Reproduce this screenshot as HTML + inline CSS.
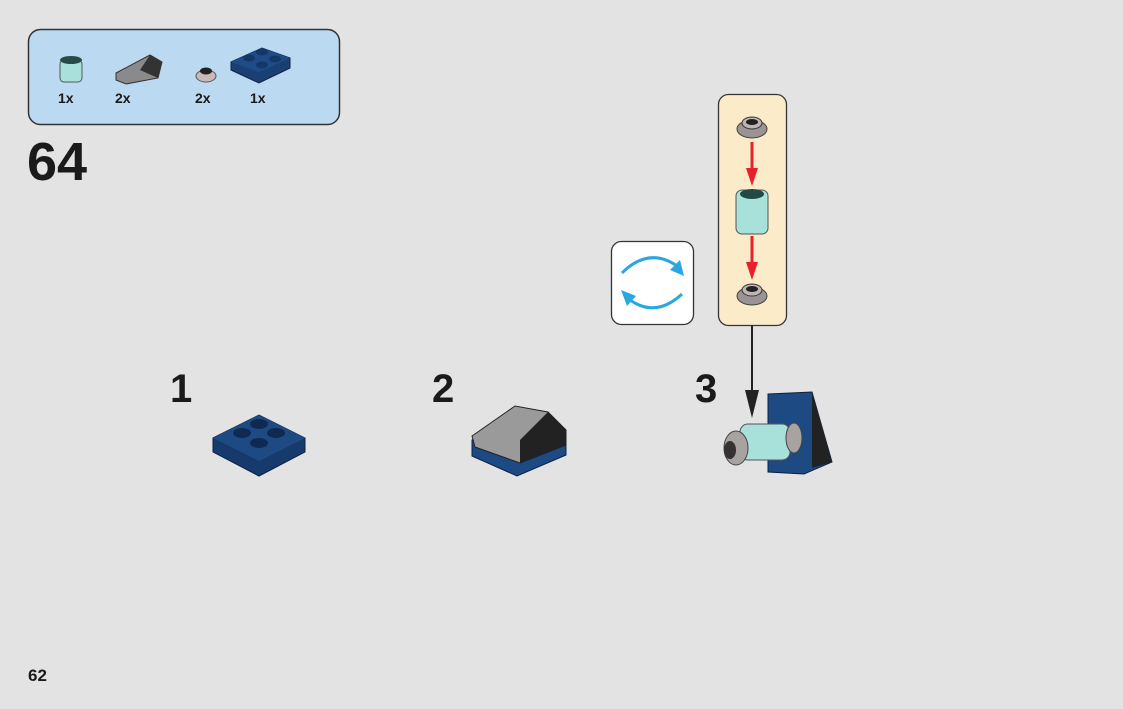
<!DOCTYPE html>
<html><head><meta charset="utf-8"><style>
html,body{margin:0;padding:0;background:#e3e3e3;}
svg{display:block}
text{font-family:"Liberation Sans",Arial,sans-serif;font-weight:bold;fill:#1a1a1a}
</style></head><body>
<svg width="1123" height="709" viewBox="0 0 1123 709">
<rect width="1123" height="709" fill="#e3e3e3"/>
<rect x="28.5" y="29.5" width="311" height="95" rx="12" fill="#bcd9f2" stroke="#333" stroke-width="1.5"/>
<rect x="60" y="60" width="22" height="22" rx="4" fill="#a9e0dc" stroke="#555"/>
<ellipse cx="71" cy="60" rx="11" ry="4" fill="#2a4a48"/>
<text x="58" y="103" font-size="14">1x</text>
<polygon points="116,73 150,55 162,62 158,78 126,84 116,80" fill="#8a8a8a" stroke="#333"/>
<polygon points="150,55 162,62 158,78 140,70" fill="#333"/>
<text x="115" y="103" font-size="14">2x</text>
<ellipse cx="206" cy="76" rx="10" ry="6" fill="#c9b9b4" stroke="#555"/>
<ellipse cx="206" cy="71" rx="6" ry="3.5" fill="#222"/>
<text x="195" y="103" font-size="14">2x</text>
<polygon points="231,62 262,48 290,58 290,68 259,83 231,70" fill="#1a3f73" stroke="#0e2545"/>
<polygon points="231,62 262,48 290,58 259,72" fill="#1f4c88"/>
<ellipse cx="249" cy="58" rx="6" ry="3.5" fill="#143866"/><ellipse cx="262" cy="52" rx="6" ry="3.5" fill="#143866"/>
<ellipse cx="275" cy="59" rx="6" ry="3.5" fill="#143866"/><ellipse cx="262" cy="65" rx="6" ry="3.5" fill="#143866"/>
<text x="250" y="103" font-size="14">1x</text>
<text x="27" y="180" font-size="54">64</text>
<rect x="611.5" y="241.5" width="82" height="83" rx="10" fill="#fff" stroke="#333" stroke-width="1.3"/>
<path d="M622 273 Q650 245 680 268" fill="none" stroke="#2aa6e3" stroke-width="3"/>
<polygon points="684,276 670,270 680,260" fill="#2aa6e3"/>
<path d="M682 294 Q654 320 626 297" fill="none" stroke="#2aa6e3" stroke-width="3"/>
<polygon points="621,290 636,296 627,306" fill="#2aa6e3"/>
<rect x="718.5" y="94.5" width="68" height="231" rx="10" fill="#fcebc9" stroke="#333" stroke-width="1.3"/>
<ellipse cx="752" cy="129" rx="15" ry="9" fill="#9a9494" stroke="#444"/>
<ellipse cx="752" cy="123" rx="10" ry="6" fill="#bdb5b3" stroke="#333"/>
<ellipse cx="752" cy="122" rx="6" ry="3" fill="#222"/>
<line x1="752" y1="142" x2="752" y2="172" stroke="#e8202a" stroke-width="3"/>
<polygon points="746,168 758,168 752,186" fill="#e8202a"/>
<rect x="736" y="190" width="32" height="44" rx="6" fill="#a8e0da" stroke="#555"/>
<ellipse cx="752" cy="194" rx="12" ry="5" fill="#214946"/>
<line x1="752" y1="236" x2="752" y2="266" stroke="#e8202a" stroke-width="3"/>
<polygon points="746,262 758,262 752,280" fill="#e8202a"/>
<ellipse cx="752" cy="296" rx="15" ry="9" fill="#9a9494" stroke="#444"/>
<ellipse cx="752" cy="290" rx="10" ry="6" fill="#bdb5b3" stroke="#333"/>
<ellipse cx="752" cy="289" rx="6" ry="3" fill="#222"/>
<line x1="752" y1="325" x2="752" y2="392" stroke="#222" stroke-width="2"/>
<polygon points="745,390 759,390 752,418" fill="#222"/>
<text x="170" y="402" font-size="40">1</text>
<text x="432" y="402" font-size="40">2</text>
<text x="695" y="402" font-size="40">3</text>
<polygon points="213,438 259,415 305,438 305,452 259,476 213,452" fill="#163a6b" stroke="#0c2240"/>
<polygon points="213,438 259,415 305,438 259,461" fill="#1e4a84"/>
<ellipse cx="242" cy="433" rx="9" ry="5" fill="#0f2a52"/><ellipse cx="259" cy="424" rx="9" ry="5" fill="#0f2a52"/>
<ellipse cx="276" cy="433" rx="9" ry="5" fill="#0f2a52"/><ellipse cx="259" cy="443" rx="9" ry="5" fill="#0f2a52"/>
<polygon points="472,440 517,418 566,432 566,455 517,476 472,456" fill="#1e4a84" stroke="#0c2240"/>
<polygon points="472,436 515,406 548,412 566,430 566,445 520,463 475,447" fill="#9a9a9a" stroke="#222"/>
<polygon points="520,440 548,412 566,430 566,445 520,463" fill="#222"/>
<polygon points="768,394 812,392 832,462 804,474 768,472" fill="#1e4a84" stroke="#0c2240"/>
<polygon points="812,392 832,462 812,468" fill="#222"/>
<rect x="740" y="424" width="50" height="36" rx="8" fill="#a8e0da" stroke="#555"/>
<ellipse cx="736" cy="448" rx="12" ry="17" fill="#a8a2a0" stroke="#444"/>
<ellipse cx="730" cy="450" rx="6" ry="9" fill="#333"/>
<ellipse cx="794" cy="438" rx="8" ry="15" fill="#a8a2a0" stroke="#444"/>
<text x="28" y="681" font-size="17">62</text>
</svg>
</body></html>
